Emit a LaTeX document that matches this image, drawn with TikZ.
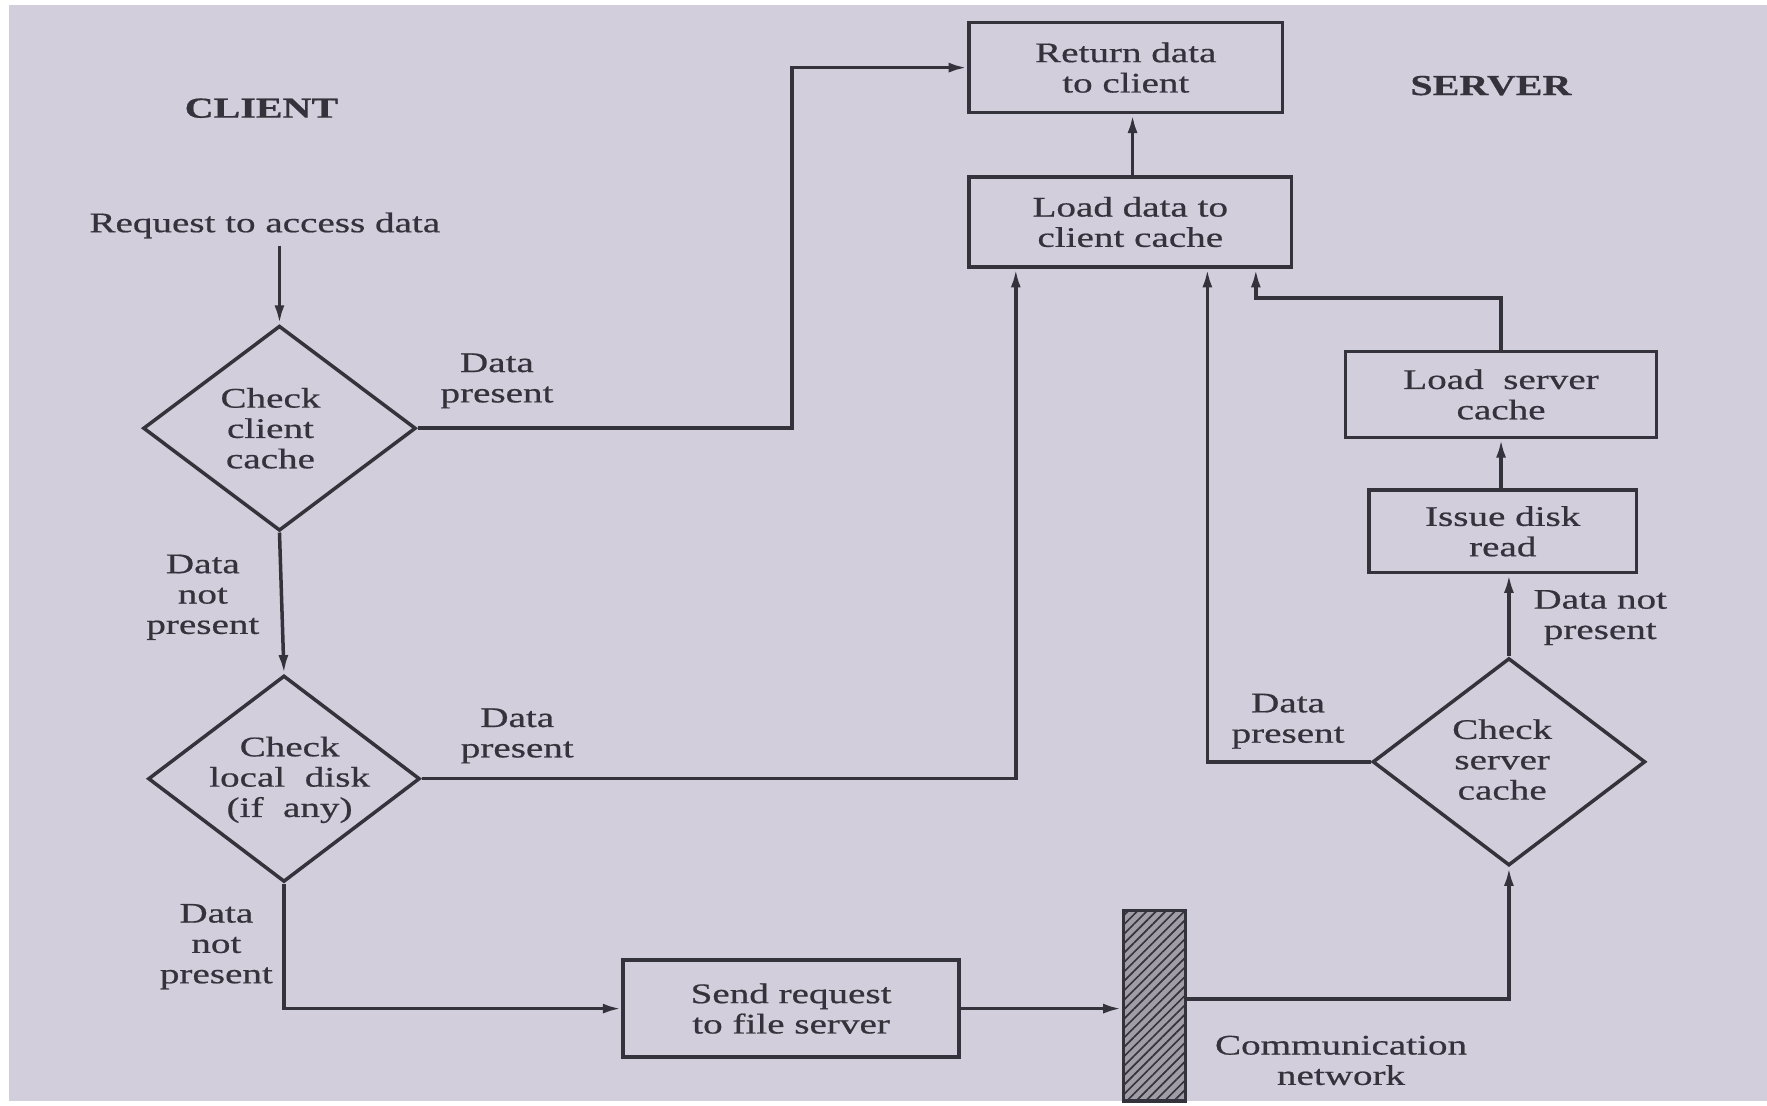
\documentclass[tikz,border=0pt]{standalone}
\usepackage{fontspec}
\setmainfont{Liberation Serif}[FakeStretch=1.38,FakeBold=0.6]
\usetikzlibrary{shapes.geometric,arrows.meta,calc,patterns.meta}
\definecolor{paper}{RGB}{210,206,220}
\definecolor{ink}{RGB}{52,50,58}
\definecolor{hatchfill}{RGB}{160,157,168}
\begin{document}
\begin{tikzpicture}[x=0.338pt,y=-0.338pt,
  txt/.style={font=\fontsize{8.5pt}{9.1pt}\selectfont, text=ink, align=center, inner sep=0pt},
  ttl/.style={font=\fontsize{8.7pt}{9.1pt}\selectfont\bfseries, text=ink, inner sep=0pt},
  box/.style={txt, draw=ink, line width=1.05pt, rectangle},
  dia/.style={draw=ink, line width=1.05pt, diamond, inner sep=0pt},
  arr/.style={draw=ink, line width=1.05pt, -{Latex[length=5.6pt,width=3pt]}},
  ln/.style={draw=ink, line width=1.05pt}]
\useasboundingbox (0,0) rectangle (1568,981);
\fill[white] (0,0) rectangle (1568,981);
\fill[paper] (8,4) rectangle (1568,977);

% titles
\node[ttl] (client) at (232,96) {CLIENT};
\node[ttl] (server) at (1323,76) {SERVER};
\node[txt] (req) at (235,200) {Request to access data};

% diamonds
\node[dia, minimum width=81.8pt, minimum height=61.5pt] (c1) at (248,380) {};
\node[txt] (c1t) at (240,380) {Check\\client\\cache};
\node[dia, minimum width=81.5pt, minimum height=61.9pt] (c2) at (252,691) {};
\node[txt] (c2t) at (257,692) {Check\\local~ disk\\(if~ any)};
\node[dia, minimum width=81.8pt, minimum height=62.2pt] (c3) at (1339,676) {};
\node[txt] (c3t) at (1333,674) {Check\\server\\cache};

% boxes
\node[box, minimum width=94.0pt, minimum height=27.0pt] (ret) at (999,60) {Return data\\to client};
\node[box, minimum width=96.7pt, minimum height=27.0pt] (ldc) at (1003,197) {Load data to\\client cache};
\node[box, minimum width=93.3pt, minimum height=25.7pt] (lsc) at (1332,350) {Load~ server\\cache};
\node[box, minimum width=80.1pt, minimum height=24.7pt] (isd) at (1333.5,471.5) {Issue disk\\read};
\node[box, minimum width=100.7pt, minimum height=29.1pt] (snd) at (702,895) {Send request\\to file server};

% network
\node[draw=ink, line width=1.05pt, fill=hatchfill, minimum width=18.6pt, minimum height=57.1pt, inner sep=0pt,
      postaction={pattern={Lines[angle=45,distance=2pt,line width=0.5pt]}, pattern color=ink}] (net) at (1024.5,892.5) {};
\node[txt] (netl) at (1190,941) {Communication\\network};

% labels
\node[txt] (l1) at (441,338) {Data\\present};
\node[txt] (l2) at (180,530) {Data\\not\\present};
\node[txt] (l3) at (459,653) {Data\\present};
\node[txt] (l4) at (192,840) {Data\\not\\present};
\node[txt] (l5) at (1420,548) {Data not\\present};
\node[txt] (l6) at (1143,640) {Data\\present};

% connectors
\coordinate (k1) at (703,60);
\draw[arr] (req.south -| c1.north) ++(0,6) -- (c1.north);
\draw[arr] (c1.east) -| (k1) -- (ret.west);
\draw[arr] (ldc.north -| 1005,0) -- (ret.south -| 1005,0);
\draw[arr] (c1.south) -- (c2.north);
\draw[arr] (c2.east) -| ($(ldc.south west)+(43,0)$);
\draw[arr] (c2.south) |- (snd.west);
\draw[arr] (snd.east) -- (snd.east -| net.west);
\draw[arr] ([yshift=2pt]net.east) -| (c3.south);
\draw[arr] (c3.north) -- (c3.north |- isd.south);
\draw[arr] (isd.north -| lsc.south) -- (lsc.south);
\draw[arr] (lsc.north) -- ++(0,-46) -| ($(ldc.south west)+(256,0)$);
\draw[arr] (c3.west) -| ($(ldc.south west)+(213,0)$);
\end{tikzpicture}
\end{document}
